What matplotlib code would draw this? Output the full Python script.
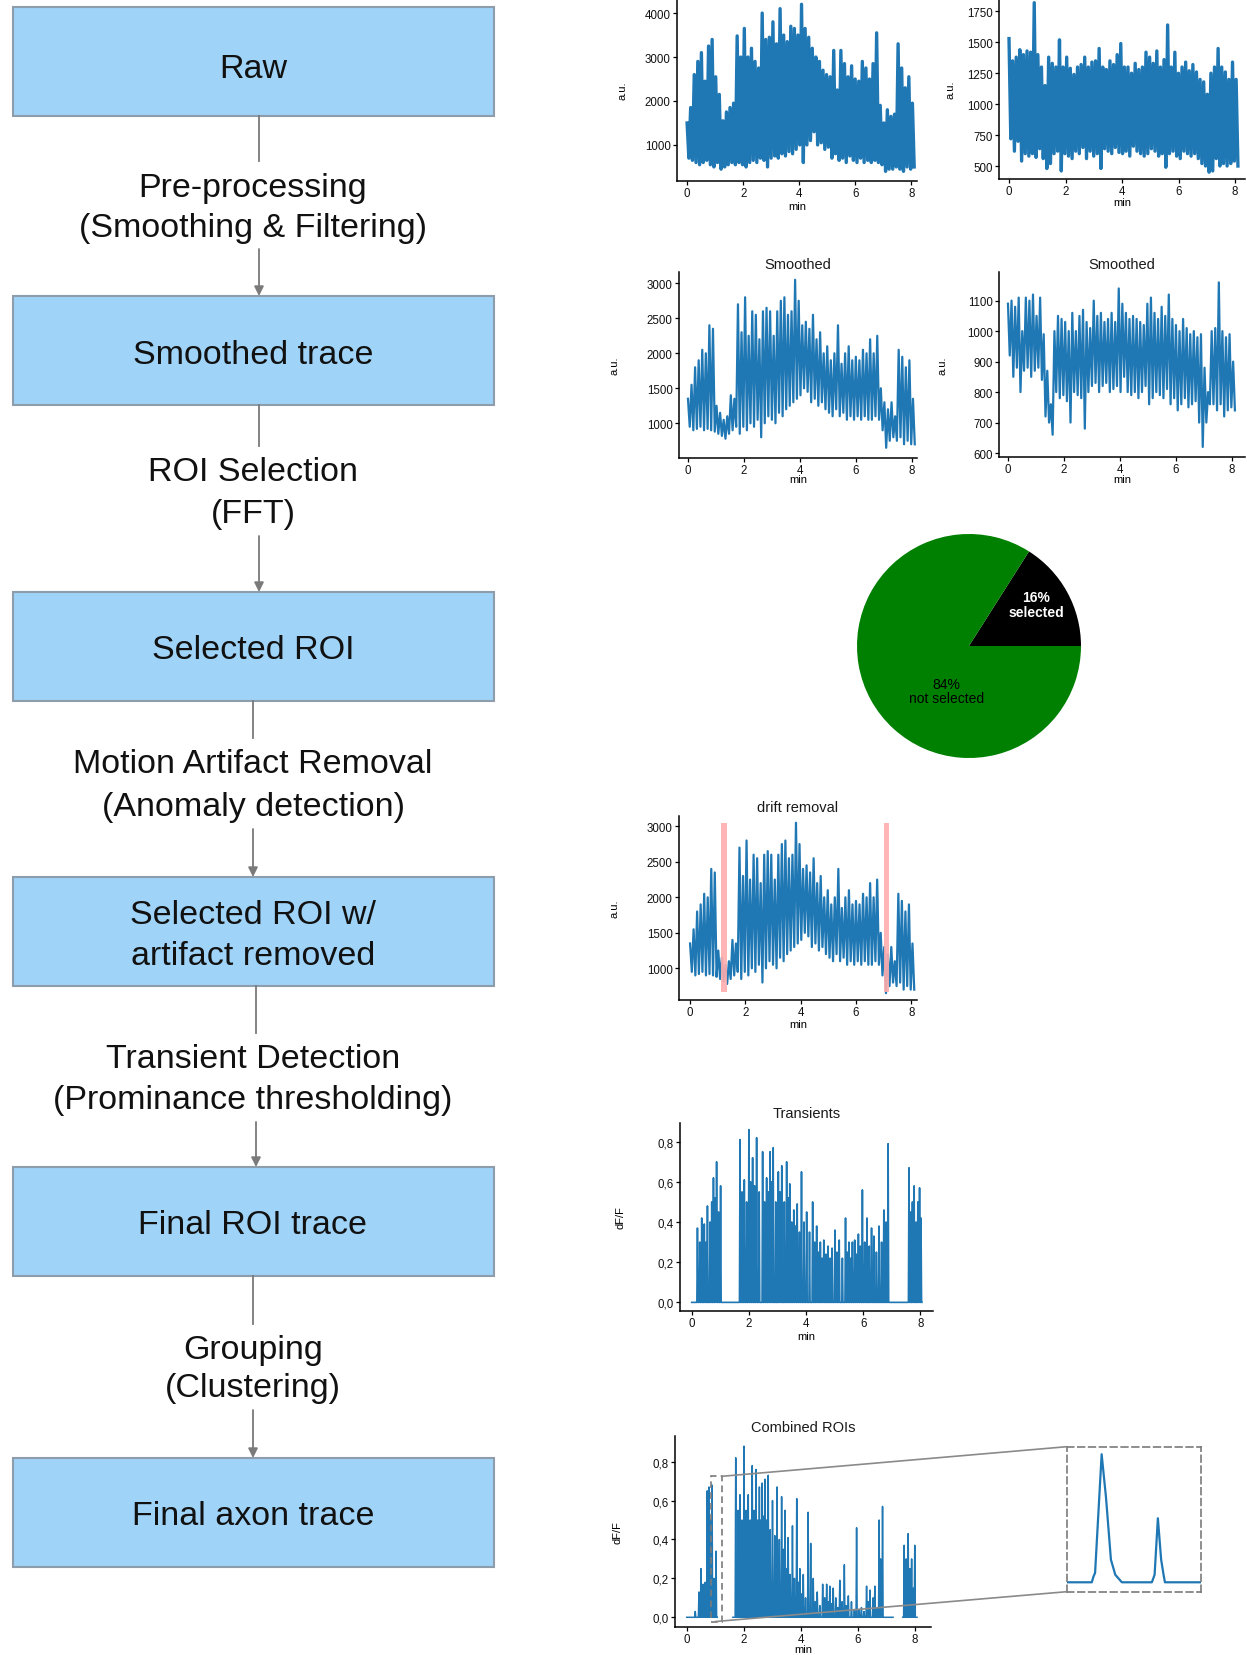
import numpy as np
import matplotlib
matplotlib.use('Agg')
import matplotlib.pyplot as plt
from matplotlib.patches import Rectangle, ConnectionPatch
from matplotlib.ticker import FuncFormatter

plt.rcParams['font.family'] = ['Liberation Sans', 'DejaVu Sans']

W, H = 1247, 1656
TRACE = '#1f77b4'
GREY = '#7a7a7a'

# ---- flowchart text ----
box_labels = ['Raw', 'Smoothed trace', 'Selected ROI', 'Selected ROI w/\nartifact removed',
              'Final ROI trace', 'Final axon trace']
step_labels = [('Pre-processing', '(Smoothing & Filtering)'),
               ('ROI Selection', '(FFT)'),
               ('Motion Artifact Removal', '(Anomaly detection)'),
               ('Transient Detection', '(Prominance thresholding)'),
               ('Grouping', '(Clustering)')]

# ---- raw traces (upper / lower swing of the signal, a.u.) ----
raw1_hi = [1500, 1850, 2600, 2900, 3100, 2450, 3250, 3400, 2550, 2150, 1550, 1750, 1850, 1950, 3480, 3000,
           3650, 3000, 3200, 2900, 2750, 4000, 3400, 3450, 3800, 3300, 4100, 3500, 3350, 3700, 3650, 3500,
           4200, 3650, 3450, 3200, 3000, 2900, 2700, 2600, 2550, 3150, 2250, 3150, 2850, 2550, 2800, 2500,
           2450, 2900, 2750, 2500, 2850, 3550, 1900, 1500, 1800, 1650, 1700, 3300, 2750, 2300, 2550, 1950]
raw1_lo = [700, 650, 600, 550, 600, 650, 550, 500, 600, 450, 500, 550, 600, 550, 600, 550,
           500, 600, 650, 600, 700, 650, 500, 700, 750, 700, 800, 750, 850, 800, 900, 1000,
           600, 1000, 1100, 1300, 1000, 1050, 900, 950, 700, 800, 650, 700, 600, 750, 650, 600,
           700, 600, 650, 600, 650, 600, 550, 400, 450, 450, 500, 450, 400, 500, 450, 500]

raw2_hi = [1530, 1350, 1380, 1440, 1400, 1430, 1420, 1820, 1400, 1300, 1150, 1380, 1330, 1300, 1520, 1300,
           1380, 1290, 1240, 1300, 1320, 1380, 1300, 1340, 1350, 1450, 1300, 1280, 1350, 1320, 1400, 1490,
           1300, 1300, 1250, 1330, 1280, 1300, 1420, 1380, 1330, 1430, 1300, 1360, 1640, 1300, 1420, 1250,
           1300, 1340, 1270, 1320, 1260, 1200, 1180, 1080, 1250, 1300, 1450, 1300, 1260, 1200, 1340, 1200]
raw2_lo = [720, 620, 700, 540, 600, 580, 600, 570, 640, 560, 480, 520, 600, 620, 460, 600,
           580, 560, 620, 600, 650, 560, 620, 580, 600, 480, 640, 620, 600, 650, 610, 600,
           620, 580, 660, 620, 600, 580, 600, 640, 620, 580, 600, 490, 600, 620, 580, 560,
           620, 600, 580, 600, 560, 520, 500, 450, 460, 560, 500, 520, 500, 520, 540, 500]

# ---- smoothed traces ----
smooth1_hi = [1350, 1550, 1800, 1900, 2050, 2000, 2400, 2350, 1250, 1150, 1050, 1100, 1400, 1350, 2700, 2300,
              2800, 2250, 2600, 2550, 2200, 2600, 2650, 2600, 2250, 2600, 2750, 2800, 2550, 2600, 3050, 2750,
              2400, 2450, 2350, 2550, 2200, 2300, 2000, 2100, 1900, 2000, 2400, 1850, 2000, 2100, 1900, 1950,
              1900, 2050, 2000, 2200, 2000, 2250, 1500, 1300, 1200, 1300, 1100, 2050, 1950, 1800, 1900, 1350]
smooth1_lo = [950, 900, 920, 950, 900, 920, 900, 880, 850, 820, 780, 850, 900, 950, 850, 950,
              900, 1000, 950, 1050, 800, 1000, 1100, 1050, 1000, 1150, 1100, 1200, 1250, 1300, 1350, 1400,
              1500, 1450, 1300, 1350, 1250, 1300, 1200, 1150, 1100, 1200, 1100, 1150, 1050, 1100, 1050, 1100,
              1050, 1100, 1050, 1050, 1100, 1050, 900, 650, 750, 800, 750, 800, 700, 750, 700, 700]

smooth2_hi = [1090, 1100, 1080, 1110, 1000, 1110, 1100, 1120, 1050, 1110, 990, 870, 760, 1000, 1050, 1040,
              1030, 1000, 1060, 1000, 1050, 1070, 1030, 1010, 1100, 1050, 1060, 1030, 1040, 1060, 1030, 1140,
              1090, 1060, 1040, 1050, 1040, 1030, 1020, 1090, 1110, 1060, 1040, 1080, 1050, 1120, 1040, 1020,
              1000, 1040, 1010, 990, 1000, 980, 990, 880, 800, 1000, 1010, 1160, 1000, 980, 990, 900]
smooth2_lo = [920, 850, 880, 800, 870, 880, 850, 870, 880, 840, 720, 700, 660, 800, 780, 790,
              770, 700, 800, 790, 780, 680, 800, 820, 830, 800, 820, 830, 800, 810, 820, 800,
              850, 800, 790, 800, 780, 800, 820, 760, 780, 800, 790, 780, 810, 760, 780, 740,
              760, 780, 750, 760, 770, 700, 620, 700, 760, 760, 740, 760, 720, 740, 750, 740]

# ---- artifact windows (min) ----
artifact_start = [1.10, 6.99]
artifact_end = [1.34, 7.20]
artifact_lo, artifact_hi = 670, 3050

# ---- ROI selection ----
pie_values = [16, 84]
pie_labels = ['16%\nselected', '84%\nnot selected']
pie_colors = ['black', 'green']

# ---- detected transients (min, dF/F) ----
trans_t = [0.20, 0.28, 0.35, 0.44, 0.50, 0.55, 0.64, 0.70, 0.76, 0.82, 0.87, 0.94, 1.01,
           1.69, 1.76, 1.84, 1.92, 2.00, 2.06, 2.13, 2.20, 2.27, 2.36, 2.48, 2.55, 2.62, 2.68, 2.74,
           2.80, 2.85, 2.94, 3.03, 3.09, 3.15, 3.24, 3.32, 3.38, 3.43, 3.50, 3.57, 3.63, 3.69, 3.77,
           3.84, 3.93, 4.02, 4.12, 4.23, 4.30, 4.37, 4.44, 4.50, 4.56, 4.62, 4.70, 4.77, 4.84, 4.91,
           5.01, 5.08, 5.16, 5.27, 5.38, 5.44, 5.50, 5.56, 5.62, 5.70, 5.76, 5.83, 5.90, 5.97, 6.05,
           6.13, 6.21, 6.29, 6.37, 6.46, 6.55, 6.64, 6.72, 6.80, 6.87,
           7.60, 7.66, 7.72, 7.78, 7.85, 7.91, 7.97, 8.02]
trans_v = [0.37, 0.30, 0.42, 0.39, 0.30, 0.48, 0.40, 0.50, 0.62, 0.52, 0.70, 0.45, 0.58,
           0.81, 0.55, 0.61, 0.50, 0.86, 0.60, 0.72, 0.58, 0.82, 0.55, 0.75, 0.50, 0.62, 0.55, 0.75,
           0.60, 0.77, 0.50, 0.65, 0.55, 0.68, 0.50, 0.70, 0.52, 0.59, 0.40, 0.46, 0.38, 0.49, 0.35,
           0.65, 0.40, 0.45, 0.35, 0.50, 0.30, 0.38, 0.25, 0.30, 0.22, 0.31, 0.24, 0.28, 0.22, 0.27,
           0.36, 0.25, 0.31, 0.22, 0.42, 0.25, 0.30, 0.22, 0.30, 0.31, 0.24, 0.34, 0.28, 0.56, 0.30,
           0.42, 0.28, 0.37, 0.33, 0.25, 0.38, 0.30, 0.46, 0.40, 0.79,
           0.67, 0.45, 0.50, 0.58, 0.40, 0.50, 0.57, 0.42]
trans_segments = [(0.0, 8.05)]

comb_t = [0.30, 0.43, 0.50, 0.57, 0.65, 0.72, 0.78, 0.84, 0.89, 0.96, 1.03,
          1.72, 1.80, 1.87, 1.94, 2.01, 2.08, 2.16, 2.23, 2.30, 2.37, 2.43, 2.49, 2.55, 2.60, 2.65,
          2.70, 2.75, 2.80, 2.86, 2.93, 3.01, 3.09, 3.17, 3.25, 3.33, 3.39, 3.45, 3.50, 3.56, 3.63,
          3.71, 3.78, 3.86, 3.92, 3.97, 4.03, 4.09, 4.17, 4.26, 4.35, 4.44, 4.51, 4.58, 4.67, 4.77,
          4.84, 4.91, 4.97, 5.02, 5.08, 5.14, 5.23, 5.30, 5.37, 5.45, 5.53, 5.60, 5.67, 5.78, 5.88,
          5.96, 6.05, 6.13, 6.22, 6.31, 6.37, 6.43, 6.54, 6.60, 6.68, 6.75, 6.80, 6.87,
          7.63, 7.70, 7.77, 7.83, 7.89, 7.95, 8.00]
comb_v = [0.03, 0.13, 0.25, 0.17, 0.18, 0.65, 0.67, 0.50, 0.68, 0.20, 0.34,
          0.82, 0.55, 0.63, 0.50, 0.88, 0.55, 0.63, 0.50, 0.78, 0.55, 0.76, 0.50, 0.67, 0.50, 0.69,
          0.52, 0.71, 0.50, 0.73, 0.45, 0.60, 0.42, 0.67, 0.40, 0.62, 0.35, 0.55, 0.25, 0.41, 0.22,
          0.47, 0.20, 0.61, 0.18, 0.25, 0.12, 0.22, 0.10, 0.54, 0.38, 0.20, 0.08, 0.13, 0.06, 0.17,
          0.10, 0.17, 0.08, 0.16, 0.07, 0.15, 0.10, 0.05, 0.19, 0.08, 0.27, 0.06, 0.11, 0.08, 0.04,
          0.46, 0.04, 0.05, 0.03, 0.16, 0.08, 0.14, 0.10, 0.16, 0.05, 0.50, 0.30, 0.57,
          0.37, 0.30, 0.43, 0.25, 0.30, 0.15, 0.37]
comb_segments = [(0.0, 1.07), (1.62, 7.24), (7.58, 8.08)]

# zoomed detail (s, dF/F)
inset_sec = [0.0, 4.6, 4.9, 5.2, 6.4, 7.2, 8.1, 8.9, 10.1, 15.6, 16.1, 16.7, 17.3, 17.8, 18.0, 24.6]
inset_val = [0.0, 0.0, 0.03, 0.05, 0.68, 0.45, 0.12, 0.04, 0.0, 0.0, 0.04, 0.34, 0.12, 0.03, 0.0, 0.0]


def zigzag(hi, lo, t_end=8.1):
    n = min(len(hi), len(lo))
    y = np.empty(2 * n)
    y[0::2] = hi[:n]
    y[1::2] = lo[:n]
    return np.linspace(0, t_end, 2 * n), y


def spike_trace(times, values, segments, hw=0.02):
    xs, ys = [], []
    for a, b in segments:
        xs.append(a)
        ys.append(0)
        for t, v in zip(times, values):
            if a <= t <= b:
                xs += [t - hw, t, t + hw]
                ys += [0, v, 0]
        xs += [b, np.nan]
        ys += [0, np.nan]
    return xs, ys


fig = plt.figure(figsize=(W / 100, H / 100), dpi=100)


def px_axes(l, t, r, b):
    return fig.add_axes([l / W, 1 - b / H, (r - l) / W, (b - t) / H])


# ---------------- flowchart ----------------
flow = fig.add_axes([0, 0, 1, 1])
flow.set_xlim(0, W)
flow.set_ylim(H, 0)
flow.axis('off')

box_top = [8, 297, 593, 878, 1168, 1459]
box_h = 109
box_left, box_right = 13, 494
box_text_shift = [7.5, 3.5, 3.5, 3.5, 3.5, 3.5]
step_y = [(185, 225), (470, 512), (762, 805), (1057, 1098), (1348, 1386)]
link_x = [259, 259, 253, 256, 253]
fs_flow = 24.5

for top, label, dy in zip(box_top, box_labels, box_text_shift):
    flow.add_patch(Rectangle((box_left, top), box_right - box_left, box_h,
                             facecolor='#9fd3f7', edgecolor='#8e9dab', lw=1.5))
    lines = label.split('\n')
    yc = top + box_h / 2 + dy - 20.5 * (len(lines) - 1)
    for k, ln in enumerate(lines):
        flow.text(253, yc + 41 * k, ln, ha='center', va='center', fontsize=fs_flow, color='#111111')

for i, (l1, l2) in enumerate(step_labels):
    y1, y2 = step_y[i]
    x = link_x[i]
    flow.text(253, y1 + 3, l1, ha='center', va='center', fontsize=fs_flow, color='#111111')
    flow.text(253, y2 + 3, l2, ha='center', va='center', fontsize=fs_flow, color='#111111')
    flow.plot([x, x], [box_top[i] + box_h, y1 - 23], color=GREY, lw=1.3)
    flow.annotate('', xy=(x, box_top[i + 1]), xytext=(x, y2 + 25),
                  arrowprops=dict(arrowstyle='-|>', color=GREY, lw=1.3,
                                  mutation_scale=14, shrinkA=0, shrinkB=0))


# ---------------- trace panels ----------------
comma = FuncFormatter(lambda v, p: f'{v:.1f}'.replace('.', ','))


def style(ax, box, xlim, ylim, yticks, ylabel, ylabel_x, xlabel_y, title=None, title_y=None, fmt=None):
    l, t, r, b = box
    ax.set_xlim(*xlim)
    ax.set_ylim(*ylim)
    for s in ['top', 'right']:
        ax.spines[s].set_visible(False)
    for s in ['left', 'bottom']:
        ax.spines[s].set_linewidth(1.1)
        ax.spines[s].set_color('black')
    ax.set_xticks([0, 2, 4, 6, 8])
    ax.set_yticks(yticks)
    if fmt is not None:
        ax.yaxis.set_major_formatter(fmt)
    ax.tick_params(length=3, width=0.9, labelsize=8.3, pad=1.5, labelcolor='#111111')
    ax.set_ylabel(ylabel, fontsize=8)
    ax.yaxis.label.set_va('center')
    ax.yaxis.set_label_coords((ylabel_x - l) / (r - l), 0.5)
    ax.set_xlabel('min', fontsize=8)
    ax.xaxis.label.set_va('center')
    ax.xaxis.set_label_coords(0.5, (b - xlabel_y) / (b - t))
    if title:
        ax.text(0.5, 1 + (t - title_y) / (b - t), title, transform=ax.transAxes,
                ha='center', va='center', fontsize=10.5, color='#1a1a1a')


box = (677, 0, 917, 182)
ax = px_axes(*box)
ax.plot(*zigzag(raw1_hi, raw1_lo), color=TRACE, lw=2.4)
style(ax, box, (-0.36, 8.2), (180, 4320), [1000, 2000, 3000, 4000], 'a.u.', 622, 207)

box = (999, 0, 1245, 180)
ax = px_axes(*box)
ax.plot(*zigzag(raw2_hi, raw2_lo), color=TRACE, lw=2.4)
style(ax, box, (-0.354, 8.35), (395, 1850), [500, 750, 1000, 1250, 1500, 1750], 'a.u.', 950, 203)

box = (679, 273, 917, 459)
ax = px_axes(*box)
ax.plot(*zigzag(smooth1_hi, smooth1_lo), color=TRACE, lw=1.6)
style(ax, box, (-0.32, 8.18), (504, 3161), [1000, 1500, 2000, 2500, 3000], 'a.u.', 615, 480,
      'Smoothed', 265)

box = (999, 273, 1245, 458)
ax = px_axes(*box)
ax.plot(*zigzag(smooth2_hi, smooth2_lo), color=TRACE, lw=1.6)
style(ax, box, (-0.32, 8.46), (587, 1194), [600, 700, 800, 900, 1000, 1100], 'a.u.', 943, 480,
      'Smoothed', 265)

# pie of selected ROIs
pie_ax = px_axes(857, 535, 1081, 759)
pie_ax.pie(pie_values, colors=pie_colors, startangle=0, counterclock=True, radius=1,
           wedgeprops=dict(linewidth=0))
pie_ax.set_xlim(-1, 1)
pie_ax.set_ylim(-1, 1)
pie_ax.set_aspect('equal')
pie_ax.text(0.6, 0.37, pie_labels[0], ha='center', va='center', fontsize=10,
            color='white', fontweight='bold', linespacing=1.05)
pie_ax.text(-0.2, -0.4, pie_labels[1], ha='center', va='center', fontsize=10,
            color='black', linespacing=1.05)

box = (679, 817, 917, 1001)
ax = px_axes(*box)
ax.plot(*zigzag(smooth1_hi, smooth1_lo), color=TRACE, lw=1.6)
for s, e in zip(artifact_start, artifact_end):
    ax.fill_between([s, e], artifact_lo, artifact_hi, color='#ffadad', alpha=0.9, lw=0, zorder=3)
style(ax, box, (-0.40, 8.2), (554, 3145), [1000, 1500, 2000, 2500, 3000], 'a.u.', 615, 1025,
      'drift removal', 808)

box = (680, 1124, 933, 1312)
ax = px_axes(*box)
ax.plot(*spike_trace(trans_t, trans_v, trans_segments), color=TRACE, lw=1.2)
style(ax, box, (-0.41, 8.44), (-0.043, 0.893), [0, 0.2, 0.4, 0.6, 0.8], 'dF/F', 620, 1337,
      'Transients', 1114, comma)

box = (675, 1437, 931, 1628)
comb = px_axes(*box)
comb.plot(*spike_trace(comb_t, comb_v, comb_segments), color=TRACE, lw=1.1)
style(comb, box, (-0.41, 8.57), (-0.05, 0.932), [0, 0.2, 0.4, 0.6, 0.8], 'dF/F', 618, 1650,
      'Combined ROIs', 1428, comma)
comb.add_patch(Rectangle((0.84, -0.022), 0.41, 0.747, fill=False, ec=GREY, lw=1.2,
                         ls=(0, (4, 2.5)), zorder=4))

ins = px_axes(1066.7, 1447.7, 1201, 1592.7)
ins.plot(inset_sec, inset_val, color=TRACE, lw=1.6)
ins.set_xlim(0, 24.6)
ins.set_ylim(-0.05, 0.72)
ins.set_xticks([])
ins.set_yticks([])
for s in ins.spines.values():
    s.set_linestyle((0, (4, 2.5)))
    s.set_color(GREY)
    s.set_linewidth(1.2)

for xa, xb in [((1.25, 0.725), (0, 1)), ((1.0, -0.022), (0, 0))]:
    con = ConnectionPatch(xyA=xa, coordsA=comb.transData, xyB=xb, coordsB=ins.transAxes,
                          color='#8a8a8a', lw=1.2)
    fig.add_artist(con)

fig.savefig('out.png', dpi=100)
